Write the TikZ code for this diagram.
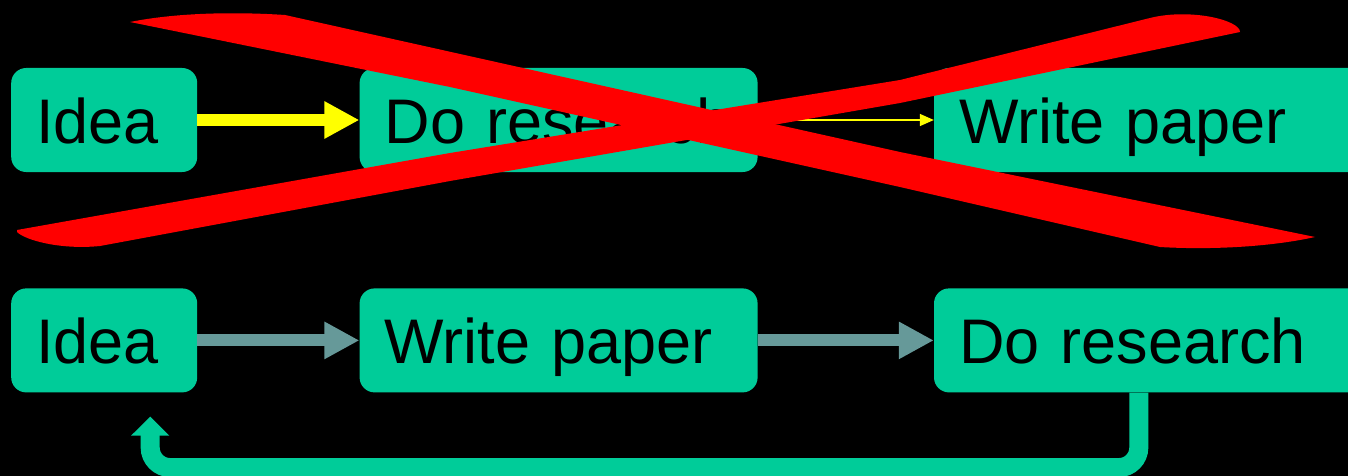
\documentclass[tikz,border=0pt]{standalone}
\usepackage{fontspec}
\setmainfont{Liberation Sans}
\usetikzlibrary{arrows.meta}
\usetikzlibrary{positioning}

\definecolor{boxgreen}{HTML}{00CC99}
\definecolor{flowgray}{HTML}{669999}
\definecolor{crossred}{HTML}{FF0000}
\definecolor{flowyellow}{HTML}{FFFF00}

\begin{document}
\begin{tikzpicture}[
    x=1pt, y=-1pt,
    every node/.style={font=\fontsize{63}{76}\selectfont},
    box/.style={rectangle, fill=boxgreen, rounded corners=15pt, align=left,
        inner xsep=25pt, inner ysep=0pt, text height=46pt, text depth=0pt,
        minimum height=104pt},
    bigflow/.style={line width=12pt, -{Triangle[length=35pt,width=35pt]}},
    thinflow/.style={line width=1.5pt, -{Triangle[length=14pt,width=12pt]}},
    loopback/.style={boxgreen, line width=19pt, rounded corners=20pt,
        -{Triangle[length=19pt,width=37pt]}}
]

% Background
\fill[black] (0,0) rectangle (1348,476);
\useasboundingbox (0,0) rectangle (1348,476);
\clip (0,0) rectangle (1348,476);

% Nodes
\node[box, text width=136pt, anchor=west] (ideaA) at (11,120) {Idea};
\node[box, text width=348pt, right=162pt of ideaA] (resA) {\mbox{Do research}};
\node[box, text width=440pt, right=176pt of resA] (paperA) {Write paper};

\node[box, text width=136pt, below=116pt of ideaA] (ideaB) {Idea};
\node[box, text width=348pt, right=162pt of ideaB] (paperB) {Write paper};
\node[box, text width=440pt, right=176pt of paperB] (resB) {Do research};

% Edges
\draw[bigflow, flowyellow] (ideaA) -- (resA);
\draw[thinflow, flowyellow] (resA) -- (paperA);
\draw[bigflow, flowgray] (ideaB) -- (paperB);
\draw[bigflow, flowgray] (paperB) -- (resB);
\draw[loopback] ([xshift=205pt]resB.south west) -- ++(0,75)
    -| ([xshift=46pt,yshift=-24pt]ideaB.south);

% Red cross
\fill[crossred] (130,22) .. controls (180,12) and (240,12) .. (285,15)
    -- (900,152) -- (1315,237) .. controls (1270,247) and (1210,250) .. (1160,247)
    -- (900,187) -- (450,87) -- cycle;
\fill[crossred] (17,230) -- (450,153) -- (900,80) -- (1150,18)
    .. controls (1190,8) and (1240,20) .. (1240,32)
    -- (900,103) -- (450,181) -- (100,246)
    .. controls (60,250) and (25,240) .. (17,232) -- cycle;

\end{tikzpicture}
\end{document}
